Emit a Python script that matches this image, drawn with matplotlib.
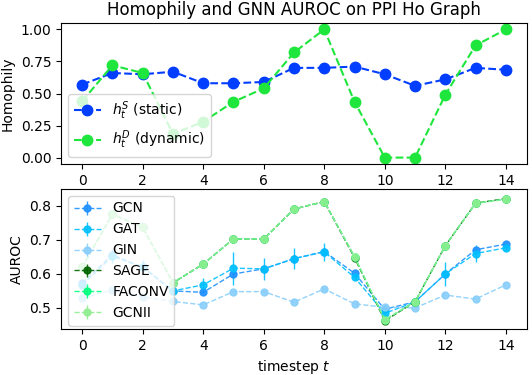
import matplotlib
matplotlib.use("Agg")
import matplotlib.pyplot as plt
import numpy as np

timesteps = list(range(15))

h_static = [0.57, 0.66, 0.65, 0.67, 0.58, 0.58, 0.59, 0.70, 0.70, 0.71, 0.65, 0.56, 0.61, 0.70, 0.685]
h_dynamic = [0.44, 0.72, 0.66, 0.185, 0.28, 0.435, 0.54, 0.82, 1.0, 0.435, 0.0, 0.0, 0.49, 0.875, 1.0]

models = ["GCN", "GAT", "GIN", "SAGE", "FACONV", "GCNII"]
colors = ["#1e90ff", "#00bfff", "#87cefa", "#006400", "#00ff7f", "#90ee90"]

auroc_mean = {
    "GCN":    [0.573, 0.656, 0.62, 0.55, 0.546, 0.60, 0.615, 0.645, 0.666, 0.602, 0.496, 0.518, 0.60, 0.671, 0.688],
    "GAT":    [0.568, 0.652, 0.62, 0.55, 0.568, 0.617, 0.615, 0.645, 0.665, 0.59, 0.484, 0.518, 0.60, 0.66, 0.677],
    "GIN":    [0.528, 0.553, 0.533, 0.519, 0.509, 0.548, 0.548, 0.517, 0.556, 0.512, 0.502, 0.50, 0.538, 0.526, 0.568],
    "SAGE":   [0.62, 0.776, 0.737, 0.574, 0.629, 0.703, 0.703, 0.791, 0.813, 0.648, 0.462, 0.518, 0.683, 0.808, 0.822],
    "FACONV": [0.62, 0.776, 0.737, 0.574, 0.629, 0.703, 0.703, 0.791, 0.813, 0.651, 0.465, 0.518, 0.683, 0.808, 0.82],
    "GCNII":  [0.62, 0.776, 0.737, 0.574, 0.629, 0.703, 0.703, 0.791, 0.813, 0.651, 0.465, 0.518, 0.683, 0.808, 0.82],
}
auroc_std = {
    "GCN":    [0.0, 0.01, 0.0, 0.0, 0.005, 0.01, 0.01, 0.01, 0.01, 0.005, 0.005, 0.0, 0.01, 0.008, 0.005],
    "GAT":    [0.0, 0.02, 0.02, 0.0, 0.02, 0.049, 0.032, 0.03, 0.026, 0.005, 0.005, 0.0, 0.035, 0.026, 0.008],
    "GIN":    [0.0, 0.0, 0.0, 0.0, 0.0, 0.0, 0.0, 0.0, 0.0, 0.0, 0.0, 0.0, 0.0, 0.0, 0.0],
    "SAGE":   [0.0, 0.0, 0.0, 0.0, 0.0, 0.0, 0.0, 0.0, 0.0, 0.0, 0.005, 0.0, 0.0, 0.0, 0.0],
    "FACONV": [0.0, 0.0, 0.0, 0.0, 0.0, 0.0, 0.0, 0.0, 0.0, 0.0, 0.005, 0.0, 0.0, 0.0, 0.0],
    "GCNII":  [0.0, 0.0, 0.0, 0.0, 0.0, 0.0, 0.0, 0.0, 0.0, 0.0, 0.005, 0.0, 0.0, 0.0, 0.0],
}

fig = plt.figure(figsize=(5.32, 3.75), dpi=100)
ax1 = fig.add_axes([61/532, 1 - 164/375, 466/532, 141/375])
ax2 = fig.add_axes([61/532, 1 - 329/375, 466/532, 140/375], sharex=ax1)

ax1.plot(timesteps, h_static, "o--", color="#023eff", markersize=7.5, label=r"$h_t^S$ (static)")
ax1.plot(timesteps, h_dynamic, "o--", color="#1ee63c", markersize=7.5, label=r"$h_t^D$ (dynamic)")
ax1.set_ylabel("Homophily")
ax1.set_title("Homophily and GNN AUROC on PPI Ho Graph")
ax1.legend(loc="lower left", fontsize=10)
ax1.set_xticks(range(0, 15, 2))

for m, c in zip(models, colors):
    ax2.errorbar(timesteps, auroc_mean[m], yerr=auroc_std[m], fmt="o--", color=c,
                 markersize=5, linewidth=1.0, alpha=0.9, label=m)
ax2.set_ylim(0.438, 0.85)
ax2.set_ylabel("AUROC")
ax2.set_xlabel("timestep $t$")
ax2.legend(loc="upper left", fontsize=10)
ax2.set_xticks(range(0, 15, 2))

fig.savefig("out.png", dpi=100)
